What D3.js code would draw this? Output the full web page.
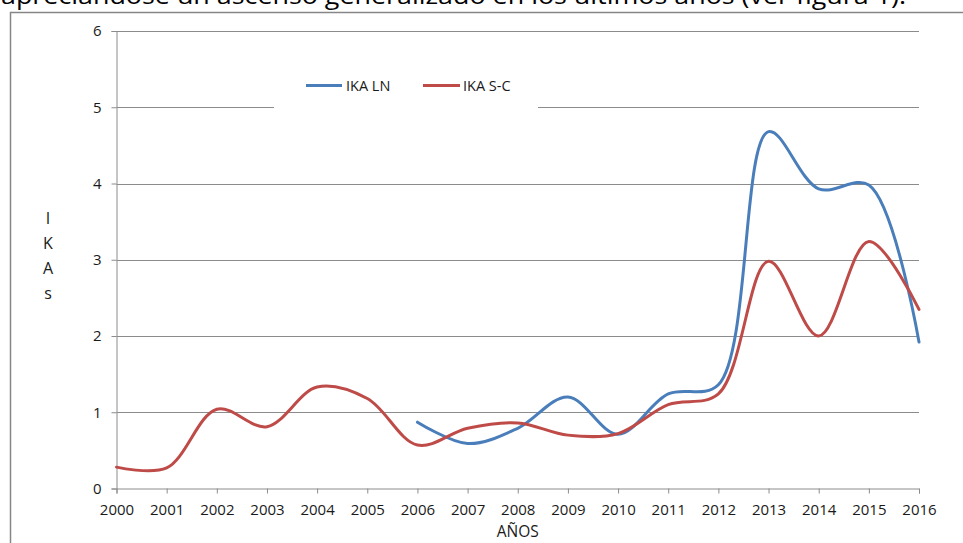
<!DOCTYPE html>
<html>
<head>
<meta charset="utf-8">
<script src="https://cdn.jsdelivr.net/npm/d3@7"></script>
<style>
  html, body { margin: 0; padding: 0; background: #fff; }
  svg { display: block; }
  text { font-family: "Open Sans", "DejaVu Sans", sans-serif; fill: #1a1a1a; }
</style>
</head>
<body>
<svg id="chart" width="963" height="543"></svg>
<script>
// ---- data ----
const years = [2000, 2001, 2002, 2003, 2004, 2005, 2006, 2007, 2008, 2009, 2010, 2011, 2012, 2013, 2014, 2015, 2016];
const ikaLN = [null, null, null, null, null, null, 0.87, 0.59, 0.79, 1.20, 0.71, 1.24, 1.36, 4.68, 3.93, 3.98, 1.92];
const ikaSC = [0.28, 0.27, 1.04, 0.81, 1.33, 1.18, 0.57, 0.79, 0.86, 0.70, 0.72, 1.10, 1.24, 2.98, 2.00, 3.24, 2.35];
const yTicks = [0, 1, 2, 3, 4, 5, 6];
const seriesNames = ["IKA LN", "IKA S-C"];
const seriesColors = ["#4a7ebb", "#be4b48"];
const xTitle = "AÑOS";
const yTitleLetters = ["I", "K", "A", "s"];
const topText = "apreciándose un ascenso generalizado en los últimos años (ver figura 1).";

const svg = d3.select("#chart");

// text above the chart frame (partially cut, as in the source page)
svg.append("text")
  .attr("x", 1).attr("y", 4)
  .attr("textLength", 905).attr("lengthAdjust", "spacingAndGlyphs")
  .style("font-size", "23px").style("fill", "#000")
  .text(topText);

// frame
svg.append("path")
  .attr("d", "M10.5,543 L10.5,12.5 L963,12.5")
  .attr("fill", "none").attr("stroke", "#868686").attr("stroke-width", 1.5);

const x = d3.scaleLinear().domain([2000, 2016]).range([116.5, 919]);
const y = d3.scaleLinear().domain([0, 6]).range([488.5, 31]);

// gridlines
svg.append("g").selectAll("line").data(yTicks.filter(d => d > 0)).join("line")
  .attr("x1", x(2000)).attr("x2", x(2016))
  .attr("y1", d => Math.round(y(d)) + 0.5).attr("y2", d => Math.round(y(d)) + 0.5)
  .attr("stroke", "#8c8c8c").attr("stroke-width", 1);

// y axis
const yAxis = svg.append("g").attr("transform", `translate(${x(2000)},0)`)
  .call(d3.axisLeft(y).tickValues(yTicks).tickFormat(d3.format("d")).tickSize(5).tickPadding(10));
// x axis
const xAxis = svg.append("g").attr("transform", `translate(0,${y(0)})`)
  .call(d3.axisBottom(x).tickValues(years).tickFormat(d3.format("d")).tickSize(5).tickPadding(11));
[yAxis, xAxis].forEach(a => {
  a.select(".domain").attr("stroke", "#8c8c8c");
  a.selectAll(".tick line").attr("stroke", "#8c8c8c");
  a.selectAll(".tick text").style("font-size", "15px").style("font-family", "'Open Sans', sans-serif").attr("fill", "#1a1a1a");
});

// axis titles
svg.append("text").attr("x", x(2008)).attr("y", 537).attr("text-anchor", "middle")
  .style("font-size", "15.5px").text(xTitle);
svg.append("g").selectAll("text").data(yTitleLetters).join("text")
  .attr("x", 48).attr("y", (d, i) => 224 + i * 25).attr("text-anchor", "middle")
  .style("font-size", "16px").text(d => d);

// legend (white background hides gridline)
const lg = svg.append("g");
lg.append("rect").attr("x", 274).attr("y", 68).attr("width", 264).attr("height", 42).attr("fill", "#fff");
const legendItems = [
  { name: seriesNames[0], color: seriesColors[0], x0: 306, x1: 342, tx: 346 },
  { name: seriesNames[1], color: seriesColors[1], x0: 423, x1: 460, tx: 463 }
];
legendItems.forEach(it => {
  lg.append("line").attr("x1", it.x0).attr("x2", it.x1).attr("y1", 85.5).attr("y2", 85.5)
    .attr("stroke", it.color).attr("stroke-width", 3);
  lg.append("text").attr("x", it.tx).attr("y", 91).style("font-size", "14.5px").text(it.name);
});

// lines
const line = d3.line()
  .defined(d => d[1] != null)
  .x(d => x(d[0])).y(d => y(d[1]))
  .curve(d3.curveCatmullRom.alpha(0.5));
[ikaLN, ikaSC].forEach((vals, i) => {
  const data = years.map((yr, j) => [yr, vals[j]]).filter(d => d[1] != null);
  svg.append("path").datum(data)
    .attr("d", line)
    .attr("fill", "none").attr("stroke", seriesColors[i])
    .attr("stroke-width", 3).attr("stroke-linejoin", "round").attr("stroke-linecap", "round");
});
</script>
</body>
</html>
